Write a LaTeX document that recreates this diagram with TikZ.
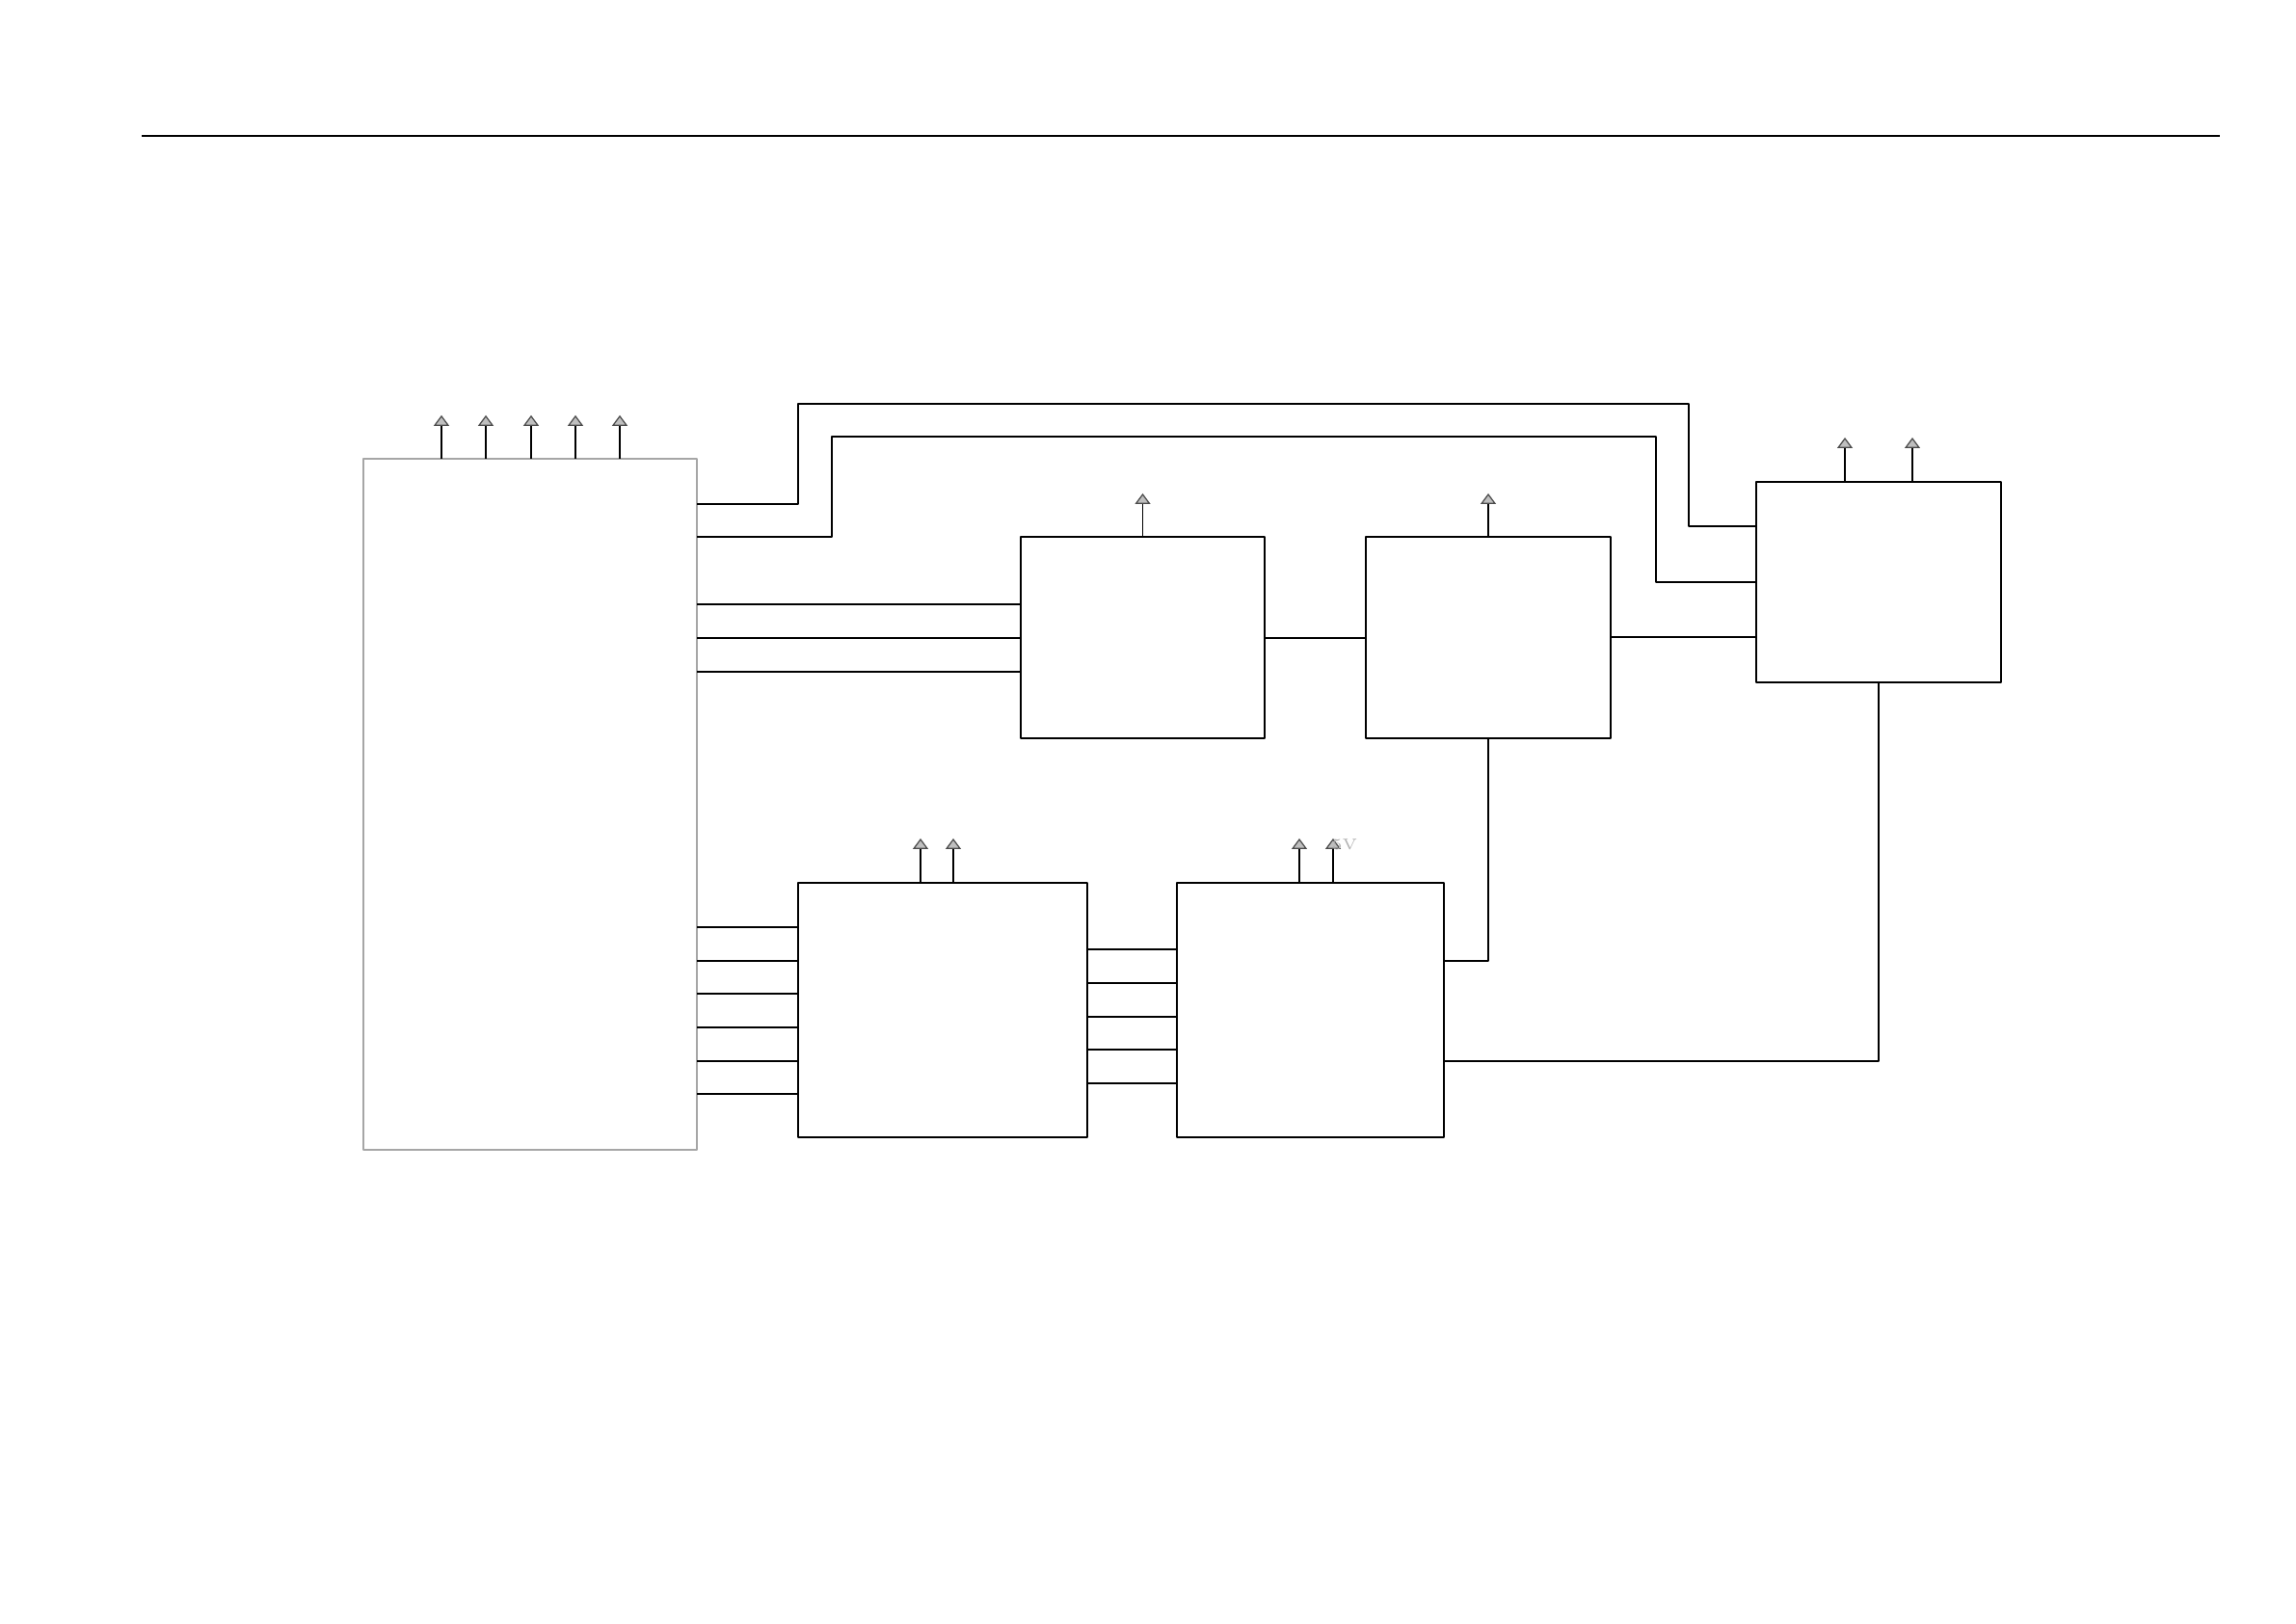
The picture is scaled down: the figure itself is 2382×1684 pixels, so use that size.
\documentclass[tikz,border=0pt]{standalone}
\usetikzlibrary{arrows.meta}

\begin{document}
\begin{tikzpicture}[x=0.01cm, y=-0.01cm, line join=round, line width=0.45pt,
    blk/.style={draw, inner sep=0pt, outer sep=0pt},
    wire/.style={draw=black},
    pwr/.style={-{Triangle[width=0.16cm, length=0.11cm, fill=gray!50, color=gray!60!black, line width=0.35pt]}}]
  \useasboundingbox (0,0) rectangle (2382,1684);
  \draw (147,141) -- (2303,141);
  % blocks
  \node[blk, draw=gray!70, minimum width=3.46cm, minimum height=7.17cm] (mcu) at (550,834.5) {};
  \node[blk, minimum width=2.53cm, minimum height=2.09cm] (adc) at (1185.5,661.5) {};
  \node[blk, minimum width=2.54cm, minimum height=2.09cm] (dsp) at (1544,661.5) {};
  \node[blk, minimum width=2.54cm, minimum height=2.08cm] (out) at (1949,604) {};
  \node[blk, minimum width=3.00cm, minimum height=2.64cm] (drv) at (978,1048) {};
  \node[blk, minimum width=2.77cm, minimum height=2.64cm] (pwm) at (1359.5,1048) {};
  % supply pins
  \foreach \x in {458,504,551,597,643}
    \draw[pwr] (mcu.north -| \x,0) -- ++(0,-45);
  \draw[pwr] (adc.north) -- ++(0,-45);
  \draw[pwr] (dsp.north) -- ++(0,-45);
  \foreach \x in {1914,1984}
    \draw[pwr] (out.north -| \x,0) -- ++(0,-46);
  \foreach \x in {955,989}
    \draw[pwr] (drv.north -| \x,0) -- ++(0,-46);
  \foreach \x in {1348,1383}
    \draw[pwr] (pwm.north -| \x,0) -- ++(0,-46);
  \node[gray!60, font=\fontsize{4.5}{5}\selectfont, inner sep=0pt, anchor=west] (vcc) at (1381,876) {5V};
  % upper signal paths
  \draw[wire] (mcu.east |- 0,523) -- (828,523) -- (828,419) -- (1752,419) -- (1752,546) -- (out.west |- 0,546);
  \draw[wire] (mcu.east |- 0,557) -- (863,557) -- (863,453) -- (1718,453) -- (1718,604) -- (out.west |- 0,604);
  \foreach \y in {627,662,697}
    \draw[wire] (mcu.east |- 0,\y) -- (adc.west |- 0,\y);
  \draw[wire] (adc.east |- 0,662) -- (dsp.west |- 0,662);
  \draw[wire] (dsp.east |- 0,661) -- (out.west |- 0,661);
  % lower signal paths
  \foreach \y in {962,997,1031,1066,1101,1135}
    \draw[wire] (mcu.east |- 0,\y) -- (drv.west |- 0,\y);
  \foreach \y in {985,1020,1055,1089,1124}
    \draw[wire] (drv.east |- 0,\y) -- (pwm.west |- 0,\y);
  \draw[wire] (pwm.east |- 0,997) -| (dsp.south);
  \draw[wire] (pwm.east |- 0,1101) -| (out.south);
\end{tikzpicture}
\end{document}
